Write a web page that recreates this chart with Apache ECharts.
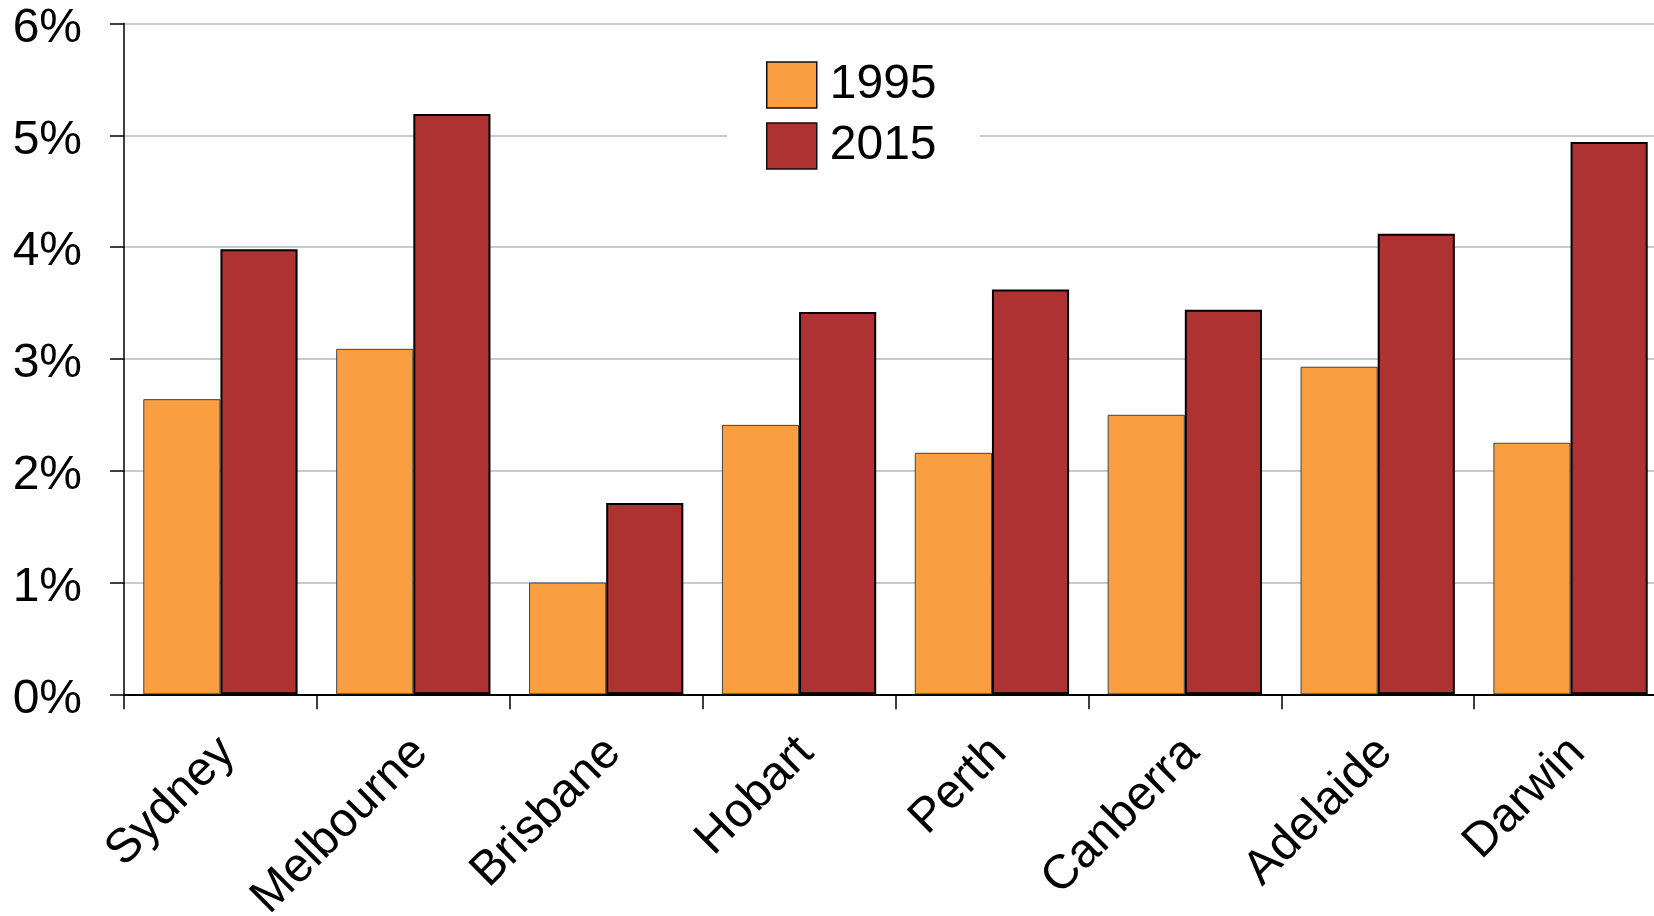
<!DOCTYPE html>
<html>
<head>
<meta charset="utf-8">
<script src="https://cdn.jsdelivr.net/npm/echarts@6/dist/echarts.min.js"></script>
<style>
html,body{margin:0;padding:0;background:#fff;}
#chart{width:1654px;height:916px;}
</style>
</head>
<body>
<div id="chart"></div>
<script>
const categories = ['Sydney','Melbourne','Brisbane','Hobart','Perth','Canberra','Adelaide','Darwin'];
const series1995 = [2.64, 3.09, 1.00, 2.41, 2.16, 2.50, 2.93, 2.25];
const series2015 = [3.98, 5.19, 1.71, 3.42, 3.62, 3.44, 4.12, 4.94];
const seriesNames = ['1995', '2015'];
const yTicks = [0, 1, 2, 3, 4, 5, 6];

const FONT = '"Liberation Sans", Arial, sans-serif';
const chart = echarts.init(document.getElementById('chart'), null, {renderer:'canvas'});
chart.setOption({
  animation: false,
  backgroundColor: '#fff',
  textStyle: {fontFamily: FONT},
  grid: {left: 124, top: 23.5, width: 1543, height: 670.8, containLabel: false, outerBoundsMode: 'none'},
  legend: {
    orient: 'vertical',
    left: 727, top: 51,
    padding: [10, 43, 10, 39],
    backgroundColor: '#fff',
    itemWidth: 50, itemHeight: 46, itemGap: 13,
    icon: 'rect',
    itemStyle: {borderColor: '#111', borderWidth: 1.5},
    textStyle: {fontSize: 48, color: '#000', fontFamily: FONT, padding: [0,0,0,8]},
    data: seriesNames
  },
  xAxis: {
    type: 'category',
    data: categories,
    axisLine: {lineStyle: {color: '#000', width: 2}},
    axisTick: {show: true, length: 15, lineStyle: {color: '#000', width: 1.5}},
    axisLabel: {rotate: 45, fontSize: 48, color: '#000', margin: 58, interval: 0, fontFamily: FONT,
                padding: [0, -10, 9, 0]}
  },
  yAxis: {
    type: 'value',
    min: yTicks[0], max: yTicks[yTicks.length-1], interval: 1,
    axisLine: {show: true, lineStyle: {color: '#000', width: 1.5}},
    axisTick: {show: true, length: 14, lineStyle: {color: '#000', width: 1.5}},
    axisLabel: {
      formatter: function (v) { return '{a|' + v + '%}'; },
      color: '#000', margin: 42, fontFamily: FONT,
      rich: {a: {fontSize: 48, color: '#000', fontFamily: FONT, padding: [10, 0, 0, 0]}}
    },
    splitLine: {show: true, lineStyle: {color: '#B6BAC0', width: 1.5}}
  },
  series: [
    {
      name: seriesNames[0], type: 'bar', data: series1995,
      barGap: '0%', barCategoryGap: '20%',
      itemStyle: {color: '#F99E41', borderColor: '#444', borderWidth: 1}
    },
    {
      name: seriesNames[1], type: 'bar', data: series2015,
      barGap: '0%', barCategoryGap: '20%',
      itemStyle: {color: '#AF3232', borderColor: '#000', borderWidth: 2}
    }
  ]
});
</script>
</body>
</html>
